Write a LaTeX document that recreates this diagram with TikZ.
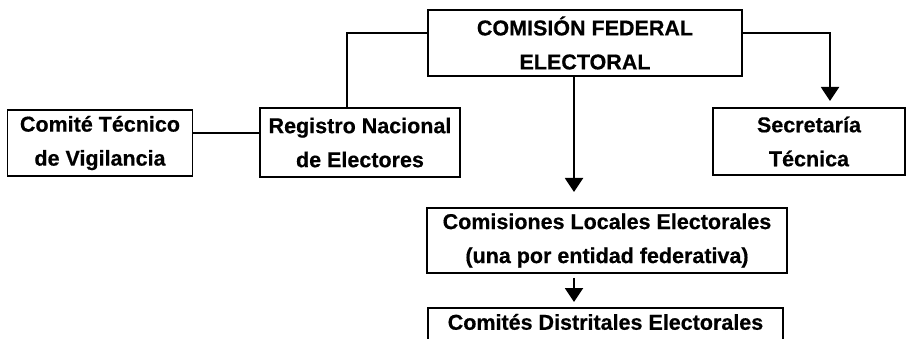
\documentclass[tikz,border=0pt]{standalone}
\usepackage{fontspec}
\setmainfont{Liberation Sans}[FakeBold=0.5]
\usetikzlibrary{arrows.meta,calc}
\begin{document}
\begin{tikzpicture}[x=1pt,y=-1pt,
  box/.style={draw=black,line width=1.5pt,rectangle,inner sep=0pt,align=center,
    font=\fontsize{21.5}{34}\selectfont\bfseries},
  conn/.style={draw=black,line width=2pt},
  arr/.style={conn,-{Triangle[width=18pt,length=14pt]}}]
\useasboundingbox (0,0) rectangle (907,339);
\clip (0,0) rectangle (907,339);
\node[box,minimum width=314pt,minimum height=66pt] (cfe) at (585,43) {COMISIÓN FEDERAL\\ELECTORAL};
\node[box,minimum width=185pt,minimum height=66pt] (cte) at (100,143) {Comité Técnico\\de Vigilancia};
\node[box,minimum width=200pt,minimum height=69pt] (rne) at (360,142.5) {Registro Nacional\\de Electores};
\node[box,minimum width=192pt,minimum height=67pt] (st) at (809,141.5) {Secretaría\\Técnica};
\node[box,minimum width=360pt,minimum height=65pt] (cle) at (607,240.5) {Comisiones Locales Electorales\\(una por entidad federativa)};
\node[box,minimum width=355pt,anchor=north,inner ysep=6pt,text height=16pt,text depth=50pt] (cde) at (605.5,307) {Comités Distritales Electorales};
\coordinate (a1) at (574,192);
\coordinate (a2) at (830,101);
\coordinate (a3) at (574,302);
\draw[conn] (cfe.west |- 0,33) -| (rne.north -| 347,0);
\draw[conn] (cte.east |- 0,133) -- (rne.west |- 0,133);
\draw[arr] (cfe.south -| a1) -- (a1);
\draw[arr] (cfe.east |- 0,33) -| (a2);
\draw[arr] ($(cle.south -| a3)+(0,4)$) -- (a3);
\end{tikzpicture}
\end{document}
